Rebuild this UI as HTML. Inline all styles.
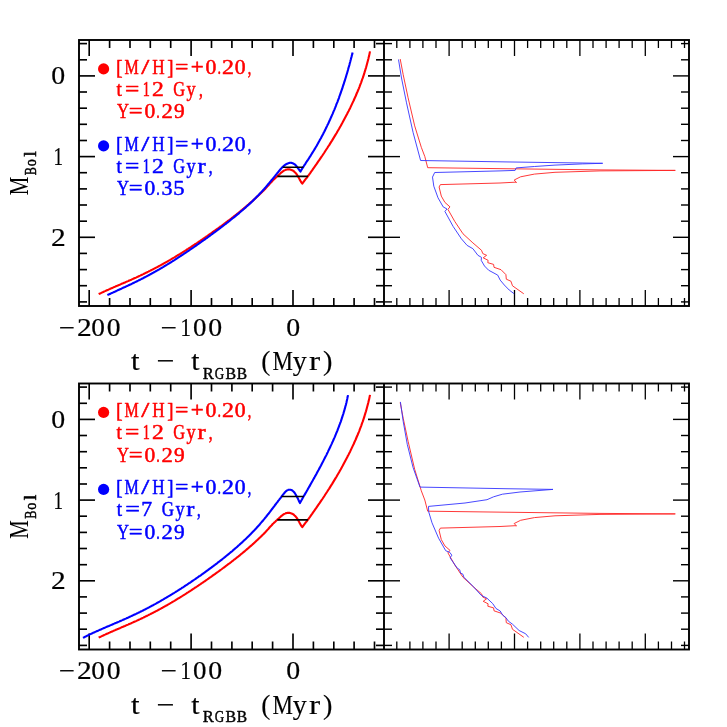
<!DOCTYPE html>
<html><head><meta charset="utf-8"><title>RGBB evolution</title>
<style>
html,body{margin:0;padding:0;background:#fff;}
body{width:727px;height:727px;overflow:hidden;}
svg{display:block;will-change:transform;}
text{font-family:"Liberation Serif",serif;stroke-linejoin:round;}
</style></head><body>
<svg width="727" height="727" viewBox="0 0 727 727">
<rect width="727" height="727" fill="#fff"/>
<!-- top panels -->
<g stroke="#000" stroke-linecap="butt">
<line x1="89.2" y1="40.0" x2="89.2" y2="56.0" stroke-width="1.65"/>
<line x1="89.2" y1="306.0" x2="89.2" y2="290.0" stroke-width="1.65"/>
<line x1="109.6" y1="40.0" x2="109.6" y2="48.0" stroke-width="1.65"/>
<line x1="109.6" y1="306.0" x2="109.6" y2="298.0" stroke-width="1.65"/>
<line x1="130.0" y1="40.0" x2="130.0" y2="48.0" stroke-width="1.65"/>
<line x1="130.0" y1="306.0" x2="130.0" y2="298.0" stroke-width="1.65"/>
<line x1="150.3" y1="40.0" x2="150.3" y2="48.0" stroke-width="1.65"/>
<line x1="150.3" y1="306.0" x2="150.3" y2="298.0" stroke-width="1.65"/>
<line x1="170.7" y1="40.0" x2="170.7" y2="48.0" stroke-width="1.65"/>
<line x1="170.7" y1="306.0" x2="170.7" y2="298.0" stroke-width="1.65"/>
<line x1="191.1" y1="40.0" x2="191.1" y2="56.0" stroke-width="1.65"/>
<line x1="191.1" y1="306.0" x2="191.1" y2="290.0" stroke-width="1.65"/>
<line x1="211.5" y1="40.0" x2="211.5" y2="48.0" stroke-width="1.65"/>
<line x1="211.5" y1="306.0" x2="211.5" y2="298.0" stroke-width="1.65"/>
<line x1="231.9" y1="40.0" x2="231.9" y2="48.0" stroke-width="1.65"/>
<line x1="231.9" y1="306.0" x2="231.9" y2="298.0" stroke-width="1.65"/>
<line x1="252.2" y1="40.0" x2="252.2" y2="48.0" stroke-width="1.65"/>
<line x1="252.2" y1="306.0" x2="252.2" y2="298.0" stroke-width="1.65"/>
<line x1="272.6" y1="40.0" x2="272.6" y2="48.0" stroke-width="1.65"/>
<line x1="272.6" y1="306.0" x2="272.6" y2="298.0" stroke-width="1.65"/>
<line x1="293.0" y1="40.0" x2="293.0" y2="56.0" stroke-width="1.65"/>
<line x1="293.0" y1="306.0" x2="293.0" y2="290.0" stroke-width="1.65"/>
<line x1="313.4" y1="40.0" x2="313.4" y2="48.0" stroke-width="1.65"/>
<line x1="313.4" y1="306.0" x2="313.4" y2="298.0" stroke-width="1.65"/>
<line x1="333.8" y1="40.0" x2="333.8" y2="48.0" stroke-width="1.65"/>
<line x1="333.8" y1="306.0" x2="333.8" y2="298.0" stroke-width="1.65"/>
<line x1="354.1" y1="40.0" x2="354.1" y2="48.0" stroke-width="1.65"/>
<line x1="354.1" y1="306.0" x2="354.1" y2="298.0" stroke-width="1.65"/>
<line x1="374.5" y1="40.0" x2="374.5" y2="48.0" stroke-width="1.65"/>
<line x1="374.5" y1="306.0" x2="374.5" y2="298.0" stroke-width="1.65"/>
<line x1="79.0" y1="43.6" x2="87.0" y2="43.6" stroke-width="1.65"/>
<line x1="376.0" y1="43.6" x2="384.0" y2="43.6" stroke-width="1.65"/>
<line x1="384.0" y1="43.6" x2="392.0" y2="43.6" stroke-width="1.4"/>
<line x1="681.0" y1="43.6" x2="689.0" y2="43.6" stroke-width="1.4"/>
<line x1="79.0" y1="59.8" x2="87.0" y2="59.8" stroke-width="1.65"/>
<line x1="376.0" y1="59.8" x2="384.0" y2="59.8" stroke-width="1.65"/>
<line x1="384.0" y1="59.8" x2="392.0" y2="59.8" stroke-width="1.4"/>
<line x1="681.0" y1="59.8" x2="689.0" y2="59.8" stroke-width="1.4"/>
<line x1="79.0" y1="75.9" x2="95.0" y2="75.9" stroke-width="1.65"/>
<line x1="368.0" y1="75.9" x2="384.0" y2="75.9" stroke-width="1.65"/>
<line x1="384.0" y1="75.9" x2="400.0" y2="75.9" stroke-width="1.4"/>
<line x1="673.0" y1="75.9" x2="689.0" y2="75.9" stroke-width="1.4"/>
<line x1="79.0" y1="92.0" x2="87.0" y2="92.0" stroke-width="1.65"/>
<line x1="376.0" y1="92.0" x2="384.0" y2="92.0" stroke-width="1.65"/>
<line x1="384.0" y1="92.0" x2="392.0" y2="92.0" stroke-width="1.4"/>
<line x1="681.0" y1="92.0" x2="689.0" y2="92.0" stroke-width="1.4"/>
<line x1="79.0" y1="108.2" x2="87.0" y2="108.2" stroke-width="1.65"/>
<line x1="376.0" y1="108.2" x2="384.0" y2="108.2" stroke-width="1.65"/>
<line x1="384.0" y1="108.2" x2="392.0" y2="108.2" stroke-width="1.4"/>
<line x1="681.0" y1="108.2" x2="689.0" y2="108.2" stroke-width="1.4"/>
<line x1="79.0" y1="124.3" x2="87.0" y2="124.3" stroke-width="1.65"/>
<line x1="376.0" y1="124.3" x2="384.0" y2="124.3" stroke-width="1.65"/>
<line x1="384.0" y1="124.3" x2="392.0" y2="124.3" stroke-width="1.4"/>
<line x1="681.0" y1="124.3" x2="689.0" y2="124.3" stroke-width="1.4"/>
<line x1="79.0" y1="140.5" x2="87.0" y2="140.5" stroke-width="1.65"/>
<line x1="376.0" y1="140.5" x2="384.0" y2="140.5" stroke-width="1.65"/>
<line x1="384.0" y1="140.5" x2="392.0" y2="140.5" stroke-width="1.4"/>
<line x1="681.0" y1="140.5" x2="689.0" y2="140.5" stroke-width="1.4"/>
<line x1="79.0" y1="156.6" x2="95.0" y2="156.6" stroke-width="1.65"/>
<line x1="368.0" y1="156.6" x2="384.0" y2="156.6" stroke-width="1.65"/>
<line x1="384.0" y1="156.6" x2="400.0" y2="156.6" stroke-width="1.4"/>
<line x1="673.0" y1="156.6" x2="689.0" y2="156.6" stroke-width="1.4"/>
<line x1="79.0" y1="172.7" x2="87.0" y2="172.7" stroke-width="1.65"/>
<line x1="376.0" y1="172.7" x2="384.0" y2="172.7" stroke-width="1.65"/>
<line x1="384.0" y1="172.7" x2="392.0" y2="172.7" stroke-width="1.4"/>
<line x1="681.0" y1="172.7" x2="689.0" y2="172.7" stroke-width="1.4"/>
<line x1="79.0" y1="188.9" x2="87.0" y2="188.9" stroke-width="1.65"/>
<line x1="376.0" y1="188.9" x2="384.0" y2="188.9" stroke-width="1.65"/>
<line x1="384.0" y1="188.9" x2="392.0" y2="188.9" stroke-width="1.4"/>
<line x1="681.0" y1="188.9" x2="689.0" y2="188.9" stroke-width="1.4"/>
<line x1="79.0" y1="205.0" x2="87.0" y2="205.0" stroke-width="1.65"/>
<line x1="376.0" y1="205.0" x2="384.0" y2="205.0" stroke-width="1.65"/>
<line x1="384.0" y1="205.0" x2="392.0" y2="205.0" stroke-width="1.4"/>
<line x1="681.0" y1="205.0" x2="689.0" y2="205.0" stroke-width="1.4"/>
<line x1="79.0" y1="221.2" x2="87.0" y2="221.2" stroke-width="1.65"/>
<line x1="376.0" y1="221.2" x2="384.0" y2="221.2" stroke-width="1.65"/>
<line x1="384.0" y1="221.2" x2="392.0" y2="221.2" stroke-width="1.4"/>
<line x1="681.0" y1="221.2" x2="689.0" y2="221.2" stroke-width="1.4"/>
<line x1="79.0" y1="237.3" x2="95.0" y2="237.3" stroke-width="1.65"/>
<line x1="368.0" y1="237.3" x2="384.0" y2="237.3" stroke-width="1.65"/>
<line x1="384.0" y1="237.3" x2="400.0" y2="237.3" stroke-width="1.4"/>
<line x1="673.0" y1="237.3" x2="689.0" y2="237.3" stroke-width="1.4"/>
<line x1="79.0" y1="253.4" x2="87.0" y2="253.4" stroke-width="1.65"/>
<line x1="376.0" y1="253.4" x2="384.0" y2="253.4" stroke-width="1.65"/>
<line x1="384.0" y1="253.4" x2="392.0" y2="253.4" stroke-width="1.4"/>
<line x1="681.0" y1="253.4" x2="689.0" y2="253.4" stroke-width="1.4"/>
<line x1="79.0" y1="269.6" x2="87.0" y2="269.6" stroke-width="1.65"/>
<line x1="376.0" y1="269.6" x2="384.0" y2="269.6" stroke-width="1.65"/>
<line x1="384.0" y1="269.6" x2="392.0" y2="269.6" stroke-width="1.4"/>
<line x1="681.0" y1="269.6" x2="689.0" y2="269.6" stroke-width="1.4"/>
<line x1="79.0" y1="285.7" x2="87.0" y2="285.7" stroke-width="1.65"/>
<line x1="376.0" y1="285.7" x2="384.0" y2="285.7" stroke-width="1.65"/>
<line x1="384.0" y1="285.7" x2="392.0" y2="285.7" stroke-width="1.4"/>
<line x1="681.0" y1="285.7" x2="689.0" y2="285.7" stroke-width="1.4"/>
<line x1="79.0" y1="301.9" x2="87.0" y2="301.9" stroke-width="1.65"/>
<line x1="376.0" y1="301.9" x2="384.0" y2="301.9" stroke-width="1.65"/>
<line x1="384.0" y1="301.9" x2="392.0" y2="301.9" stroke-width="1.4"/>
<line x1="681.0" y1="301.9" x2="689.0" y2="301.9" stroke-width="1.4"/>
<line x1="396.8" y1="40.0" x2="396.8" y2="48.0" stroke-width="1.3"/>
<line x1="396.8" y1="306.0" x2="396.8" y2="298.0" stroke-width="1.3"/>
<line x1="409.9" y1="40.0" x2="409.9" y2="48.0" stroke-width="1.3"/>
<line x1="409.9" y1="306.0" x2="409.9" y2="298.0" stroke-width="1.3"/>
<line x1="422.9" y1="40.0" x2="422.9" y2="48.0" stroke-width="1.3"/>
<line x1="422.9" y1="306.0" x2="422.9" y2="298.0" stroke-width="1.3"/>
<line x1="436.0" y1="40.0" x2="436.0" y2="48.0" stroke-width="1.3"/>
<line x1="436.0" y1="306.0" x2="436.0" y2="298.0" stroke-width="1.3"/>
<line x1="449.1" y1="40.0" x2="449.1" y2="56.0" stroke-width="1.3"/>
<line x1="449.1" y1="306.0" x2="449.1" y2="290.0" stroke-width="1.3"/>
<line x1="462.2" y1="40.0" x2="462.2" y2="48.0" stroke-width="1.3"/>
<line x1="462.2" y1="306.0" x2="462.2" y2="298.0" stroke-width="1.3"/>
<line x1="475.3" y1="40.0" x2="475.3" y2="48.0" stroke-width="1.3"/>
<line x1="475.3" y1="306.0" x2="475.3" y2="298.0" stroke-width="1.3"/>
<line x1="488.3" y1="40.0" x2="488.3" y2="48.0" stroke-width="1.3"/>
<line x1="488.3" y1="306.0" x2="488.3" y2="298.0" stroke-width="1.3"/>
<line x1="501.4" y1="40.0" x2="501.4" y2="48.0" stroke-width="1.3"/>
<line x1="501.4" y1="306.0" x2="501.4" y2="298.0" stroke-width="1.3"/>
<line x1="514.5" y1="40.0" x2="514.5" y2="56.0" stroke-width="1.3"/>
<line x1="514.5" y1="306.0" x2="514.5" y2="290.0" stroke-width="1.3"/>
<line x1="527.6" y1="40.0" x2="527.6" y2="48.0" stroke-width="1.3"/>
<line x1="527.6" y1="306.0" x2="527.6" y2="298.0" stroke-width="1.3"/>
<line x1="540.7" y1="40.0" x2="540.7" y2="48.0" stroke-width="1.3"/>
<line x1="540.7" y1="306.0" x2="540.7" y2="298.0" stroke-width="1.3"/>
<line x1="553.7" y1="40.0" x2="553.7" y2="48.0" stroke-width="1.3"/>
<line x1="553.7" y1="306.0" x2="553.7" y2="298.0" stroke-width="1.3"/>
<line x1="566.8" y1="40.0" x2="566.8" y2="48.0" stroke-width="1.3"/>
<line x1="566.8" y1="306.0" x2="566.8" y2="298.0" stroke-width="1.3"/>
<line x1="579.9" y1="40.0" x2="579.9" y2="56.0" stroke-width="1.3"/>
<line x1="579.9" y1="306.0" x2="579.9" y2="290.0" stroke-width="1.3"/>
<line x1="593.0" y1="40.0" x2="593.0" y2="48.0" stroke-width="1.3"/>
<line x1="593.0" y1="306.0" x2="593.0" y2="298.0" stroke-width="1.3"/>
<line x1="606.1" y1="40.0" x2="606.1" y2="48.0" stroke-width="1.3"/>
<line x1="606.1" y1="306.0" x2="606.1" y2="298.0" stroke-width="1.3"/>
<line x1="619.1" y1="40.0" x2="619.1" y2="48.0" stroke-width="1.3"/>
<line x1="619.1" y1="306.0" x2="619.1" y2="298.0" stroke-width="1.3"/>
<line x1="632.2" y1="40.0" x2="632.2" y2="48.0" stroke-width="1.3"/>
<line x1="632.2" y1="306.0" x2="632.2" y2="298.0" stroke-width="1.3"/>
<line x1="645.3" y1="40.0" x2="645.3" y2="56.0" stroke-width="1.3"/>
<line x1="645.3" y1="306.0" x2="645.3" y2="290.0" stroke-width="1.3"/>
<line x1="658.4" y1="40.0" x2="658.4" y2="48.0" stroke-width="1.3"/>
<line x1="658.4" y1="306.0" x2="658.4" y2="298.0" stroke-width="1.3"/>
<line x1="671.5" y1="40.0" x2="671.5" y2="48.0" stroke-width="1.3"/>
<line x1="671.5" y1="306.0" x2="671.5" y2="298.0" stroke-width="1.3"/>
<line x1="684.5" y1="40.0" x2="684.5" y2="48.0" stroke-width="1.3"/>
<line x1="684.5" y1="306.0" x2="684.5" y2="298.0" stroke-width="1.3"/>
<rect x="79.0" y="40.0" width="610.0" height="266.0" fill="none" stroke-width="1.9"/>
<line x1="384.0" y1="40.0" x2="384.0" y2="306.0" stroke-width="1.9"/>
<line x1="89.2" y1="383.5" x2="89.2" y2="399.5" stroke-width="1.65"/>
<line x1="89.2" y1="649.5" x2="89.2" y2="633.5" stroke-width="1.65"/>
<line x1="109.6" y1="383.5" x2="109.6" y2="391.5" stroke-width="1.65"/>
<line x1="109.6" y1="649.5" x2="109.6" y2="641.5" stroke-width="1.65"/>
<line x1="130.0" y1="383.5" x2="130.0" y2="391.5" stroke-width="1.65"/>
<line x1="130.0" y1="649.5" x2="130.0" y2="641.5" stroke-width="1.65"/>
<line x1="150.3" y1="383.5" x2="150.3" y2="391.5" stroke-width="1.65"/>
<line x1="150.3" y1="649.5" x2="150.3" y2="641.5" stroke-width="1.65"/>
<line x1="170.7" y1="383.5" x2="170.7" y2="391.5" stroke-width="1.65"/>
<line x1="170.7" y1="649.5" x2="170.7" y2="641.5" stroke-width="1.65"/>
<line x1="191.1" y1="383.5" x2="191.1" y2="399.5" stroke-width="1.65"/>
<line x1="191.1" y1="649.5" x2="191.1" y2="633.5" stroke-width="1.65"/>
<line x1="211.5" y1="383.5" x2="211.5" y2="391.5" stroke-width="1.65"/>
<line x1="211.5" y1="649.5" x2="211.5" y2="641.5" stroke-width="1.65"/>
<line x1="231.9" y1="383.5" x2="231.9" y2="391.5" stroke-width="1.65"/>
<line x1="231.9" y1="649.5" x2="231.9" y2="641.5" stroke-width="1.65"/>
<line x1="252.2" y1="383.5" x2="252.2" y2="391.5" stroke-width="1.65"/>
<line x1="252.2" y1="649.5" x2="252.2" y2="641.5" stroke-width="1.65"/>
<line x1="272.6" y1="383.5" x2="272.6" y2="391.5" stroke-width="1.65"/>
<line x1="272.6" y1="649.5" x2="272.6" y2="641.5" stroke-width="1.65"/>
<line x1="293.0" y1="383.5" x2="293.0" y2="399.5" stroke-width="1.65"/>
<line x1="293.0" y1="649.5" x2="293.0" y2="633.5" stroke-width="1.65"/>
<line x1="313.4" y1="383.5" x2="313.4" y2="391.5" stroke-width="1.65"/>
<line x1="313.4" y1="649.5" x2="313.4" y2="641.5" stroke-width="1.65"/>
<line x1="333.8" y1="383.5" x2="333.8" y2="391.5" stroke-width="1.65"/>
<line x1="333.8" y1="649.5" x2="333.8" y2="641.5" stroke-width="1.65"/>
<line x1="354.1" y1="383.5" x2="354.1" y2="391.5" stroke-width="1.65"/>
<line x1="354.1" y1="649.5" x2="354.1" y2="641.5" stroke-width="1.65"/>
<line x1="374.5" y1="383.5" x2="374.5" y2="391.5" stroke-width="1.65"/>
<line x1="374.5" y1="649.5" x2="374.5" y2="641.5" stroke-width="1.65"/>
<line x1="79.0" y1="387.1" x2="87.0" y2="387.1" stroke-width="1.65"/>
<line x1="376.0" y1="387.1" x2="384.0" y2="387.1" stroke-width="1.65"/>
<line x1="384.0" y1="387.1" x2="392.0" y2="387.1" stroke-width="1.4"/>
<line x1="681.0" y1="387.1" x2="689.0" y2="387.1" stroke-width="1.4"/>
<line x1="79.0" y1="403.3" x2="87.0" y2="403.3" stroke-width="1.65"/>
<line x1="376.0" y1="403.3" x2="384.0" y2="403.3" stroke-width="1.65"/>
<line x1="384.0" y1="403.3" x2="392.0" y2="403.3" stroke-width="1.4"/>
<line x1="681.0" y1="403.3" x2="689.0" y2="403.3" stroke-width="1.4"/>
<line x1="79.0" y1="419.4" x2="95.0" y2="419.4" stroke-width="1.65"/>
<line x1="368.0" y1="419.4" x2="384.0" y2="419.4" stroke-width="1.65"/>
<line x1="384.0" y1="419.4" x2="400.0" y2="419.4" stroke-width="1.4"/>
<line x1="673.0" y1="419.4" x2="689.0" y2="419.4" stroke-width="1.4"/>
<line x1="79.0" y1="435.5" x2="87.0" y2="435.5" stroke-width="1.65"/>
<line x1="376.0" y1="435.5" x2="384.0" y2="435.5" stroke-width="1.65"/>
<line x1="384.0" y1="435.5" x2="392.0" y2="435.5" stroke-width="1.4"/>
<line x1="681.0" y1="435.5" x2="689.0" y2="435.5" stroke-width="1.4"/>
<line x1="79.0" y1="451.7" x2="87.0" y2="451.7" stroke-width="1.65"/>
<line x1="376.0" y1="451.7" x2="384.0" y2="451.7" stroke-width="1.65"/>
<line x1="384.0" y1="451.7" x2="392.0" y2="451.7" stroke-width="1.4"/>
<line x1="681.0" y1="451.7" x2="689.0" y2="451.7" stroke-width="1.4"/>
<line x1="79.0" y1="467.8" x2="87.0" y2="467.8" stroke-width="1.65"/>
<line x1="376.0" y1="467.8" x2="384.0" y2="467.8" stroke-width="1.65"/>
<line x1="384.0" y1="467.8" x2="392.0" y2="467.8" stroke-width="1.4"/>
<line x1="681.0" y1="467.8" x2="689.0" y2="467.8" stroke-width="1.4"/>
<line x1="79.0" y1="484.0" x2="87.0" y2="484.0" stroke-width="1.65"/>
<line x1="376.0" y1="484.0" x2="384.0" y2="484.0" stroke-width="1.65"/>
<line x1="384.0" y1="484.0" x2="392.0" y2="484.0" stroke-width="1.4"/>
<line x1="681.0" y1="484.0" x2="689.0" y2="484.0" stroke-width="1.4"/>
<line x1="79.0" y1="500.1" x2="95.0" y2="500.1" stroke-width="1.65"/>
<line x1="368.0" y1="500.1" x2="384.0" y2="500.1" stroke-width="1.65"/>
<line x1="384.0" y1="500.1" x2="400.0" y2="500.1" stroke-width="1.4"/>
<line x1="673.0" y1="500.1" x2="689.0" y2="500.1" stroke-width="1.4"/>
<line x1="79.0" y1="516.2" x2="87.0" y2="516.2" stroke-width="1.65"/>
<line x1="376.0" y1="516.2" x2="384.0" y2="516.2" stroke-width="1.65"/>
<line x1="384.0" y1="516.2" x2="392.0" y2="516.2" stroke-width="1.4"/>
<line x1="681.0" y1="516.2" x2="689.0" y2="516.2" stroke-width="1.4"/>
<line x1="79.0" y1="532.4" x2="87.0" y2="532.4" stroke-width="1.65"/>
<line x1="376.0" y1="532.4" x2="384.0" y2="532.4" stroke-width="1.65"/>
<line x1="384.0" y1="532.4" x2="392.0" y2="532.4" stroke-width="1.4"/>
<line x1="681.0" y1="532.4" x2="689.0" y2="532.4" stroke-width="1.4"/>
<line x1="79.0" y1="548.5" x2="87.0" y2="548.5" stroke-width="1.65"/>
<line x1="376.0" y1="548.5" x2="384.0" y2="548.5" stroke-width="1.65"/>
<line x1="384.0" y1="548.5" x2="392.0" y2="548.5" stroke-width="1.4"/>
<line x1="681.0" y1="548.5" x2="689.0" y2="548.5" stroke-width="1.4"/>
<line x1="79.0" y1="564.7" x2="87.0" y2="564.7" stroke-width="1.65"/>
<line x1="376.0" y1="564.7" x2="384.0" y2="564.7" stroke-width="1.65"/>
<line x1="384.0" y1="564.7" x2="392.0" y2="564.7" stroke-width="1.4"/>
<line x1="681.0" y1="564.7" x2="689.0" y2="564.7" stroke-width="1.4"/>
<line x1="79.0" y1="580.8" x2="95.0" y2="580.8" stroke-width="1.65"/>
<line x1="368.0" y1="580.8" x2="384.0" y2="580.8" stroke-width="1.65"/>
<line x1="384.0" y1="580.8" x2="400.0" y2="580.8" stroke-width="1.4"/>
<line x1="673.0" y1="580.8" x2="689.0" y2="580.8" stroke-width="1.4"/>
<line x1="79.0" y1="596.9" x2="87.0" y2="596.9" stroke-width="1.65"/>
<line x1="376.0" y1="596.9" x2="384.0" y2="596.9" stroke-width="1.65"/>
<line x1="384.0" y1="596.9" x2="392.0" y2="596.9" stroke-width="1.4"/>
<line x1="681.0" y1="596.9" x2="689.0" y2="596.9" stroke-width="1.4"/>
<line x1="79.0" y1="613.1" x2="87.0" y2="613.1" stroke-width="1.65"/>
<line x1="376.0" y1="613.1" x2="384.0" y2="613.1" stroke-width="1.65"/>
<line x1="384.0" y1="613.1" x2="392.0" y2="613.1" stroke-width="1.4"/>
<line x1="681.0" y1="613.1" x2="689.0" y2="613.1" stroke-width="1.4"/>
<line x1="79.0" y1="629.2" x2="87.0" y2="629.2" stroke-width="1.65"/>
<line x1="376.0" y1="629.2" x2="384.0" y2="629.2" stroke-width="1.65"/>
<line x1="384.0" y1="629.2" x2="392.0" y2="629.2" stroke-width="1.4"/>
<line x1="681.0" y1="629.2" x2="689.0" y2="629.2" stroke-width="1.4"/>
<line x1="79.0" y1="645.4" x2="87.0" y2="645.4" stroke-width="1.65"/>
<line x1="376.0" y1="645.4" x2="384.0" y2="645.4" stroke-width="1.65"/>
<line x1="384.0" y1="645.4" x2="392.0" y2="645.4" stroke-width="1.4"/>
<line x1="681.0" y1="645.4" x2="689.0" y2="645.4" stroke-width="1.4"/>
<line x1="396.8" y1="383.5" x2="396.8" y2="391.5" stroke-width="1.3"/>
<line x1="396.8" y1="649.5" x2="396.8" y2="641.5" stroke-width="1.3"/>
<line x1="409.9" y1="383.5" x2="409.9" y2="391.5" stroke-width="1.3"/>
<line x1="409.9" y1="649.5" x2="409.9" y2="641.5" stroke-width="1.3"/>
<line x1="422.9" y1="383.5" x2="422.9" y2="391.5" stroke-width="1.3"/>
<line x1="422.9" y1="649.5" x2="422.9" y2="641.5" stroke-width="1.3"/>
<line x1="436.0" y1="383.5" x2="436.0" y2="391.5" stroke-width="1.3"/>
<line x1="436.0" y1="649.5" x2="436.0" y2="641.5" stroke-width="1.3"/>
<line x1="449.1" y1="383.5" x2="449.1" y2="399.5" stroke-width="1.3"/>
<line x1="449.1" y1="649.5" x2="449.1" y2="633.5" stroke-width="1.3"/>
<line x1="462.2" y1="383.5" x2="462.2" y2="391.5" stroke-width="1.3"/>
<line x1="462.2" y1="649.5" x2="462.2" y2="641.5" stroke-width="1.3"/>
<line x1="475.3" y1="383.5" x2="475.3" y2="391.5" stroke-width="1.3"/>
<line x1="475.3" y1="649.5" x2="475.3" y2="641.5" stroke-width="1.3"/>
<line x1="488.3" y1="383.5" x2="488.3" y2="391.5" stroke-width="1.3"/>
<line x1="488.3" y1="649.5" x2="488.3" y2="641.5" stroke-width="1.3"/>
<line x1="501.4" y1="383.5" x2="501.4" y2="391.5" stroke-width="1.3"/>
<line x1="501.4" y1="649.5" x2="501.4" y2="641.5" stroke-width="1.3"/>
<line x1="514.5" y1="383.5" x2="514.5" y2="399.5" stroke-width="1.3"/>
<line x1="514.5" y1="649.5" x2="514.5" y2="633.5" stroke-width="1.3"/>
<line x1="527.6" y1="383.5" x2="527.6" y2="391.5" stroke-width="1.3"/>
<line x1="527.6" y1="649.5" x2="527.6" y2="641.5" stroke-width="1.3"/>
<line x1="540.7" y1="383.5" x2="540.7" y2="391.5" stroke-width="1.3"/>
<line x1="540.7" y1="649.5" x2="540.7" y2="641.5" stroke-width="1.3"/>
<line x1="553.7" y1="383.5" x2="553.7" y2="391.5" stroke-width="1.3"/>
<line x1="553.7" y1="649.5" x2="553.7" y2="641.5" stroke-width="1.3"/>
<line x1="566.8" y1="383.5" x2="566.8" y2="391.5" stroke-width="1.3"/>
<line x1="566.8" y1="649.5" x2="566.8" y2="641.5" stroke-width="1.3"/>
<line x1="579.9" y1="383.5" x2="579.9" y2="399.5" stroke-width="1.3"/>
<line x1="579.9" y1="649.5" x2="579.9" y2="633.5" stroke-width="1.3"/>
<line x1="593.0" y1="383.5" x2="593.0" y2="391.5" stroke-width="1.3"/>
<line x1="593.0" y1="649.5" x2="593.0" y2="641.5" stroke-width="1.3"/>
<line x1="606.1" y1="383.5" x2="606.1" y2="391.5" stroke-width="1.3"/>
<line x1="606.1" y1="649.5" x2="606.1" y2="641.5" stroke-width="1.3"/>
<line x1="619.1" y1="383.5" x2="619.1" y2="391.5" stroke-width="1.3"/>
<line x1="619.1" y1="649.5" x2="619.1" y2="641.5" stroke-width="1.3"/>
<line x1="632.2" y1="383.5" x2="632.2" y2="391.5" stroke-width="1.3"/>
<line x1="632.2" y1="649.5" x2="632.2" y2="641.5" stroke-width="1.3"/>
<line x1="645.3" y1="383.5" x2="645.3" y2="399.5" stroke-width="1.3"/>
<line x1="645.3" y1="649.5" x2="645.3" y2="633.5" stroke-width="1.3"/>
<line x1="658.4" y1="383.5" x2="658.4" y2="391.5" stroke-width="1.3"/>
<line x1="658.4" y1="649.5" x2="658.4" y2="641.5" stroke-width="1.3"/>
<line x1="671.5" y1="383.5" x2="671.5" y2="391.5" stroke-width="1.3"/>
<line x1="671.5" y1="649.5" x2="671.5" y2="641.5" stroke-width="1.3"/>
<line x1="684.5" y1="383.5" x2="684.5" y2="391.5" stroke-width="1.3"/>
<line x1="684.5" y1="649.5" x2="684.5" y2="641.5" stroke-width="1.3"/>
<rect x="79.0" y="383.5" width="610.0" height="266.0" fill="none" stroke-width="1.9"/>
<line x1="384.0" y1="383.5" x2="384.0" y2="649.5" stroke-width="1.9"/>
</g>
<g fill="none" stroke-linejoin="round" stroke-linecap="butt">
<!-- top-left curves -->
<path d="M98.7 294.1 L99.3 293.8 L100.0 293.5 L100.6 293.2 L101.3 292.9 L101.9 292.6 L102.5 292.3 L103.2 292.0 L103.8 291.7 L104.4 291.4 L105.1 291.1 L105.7 290.8 L106.4 290.5 L107.0 290.2 L107.6 289.9 L108.3 289.7 L108.9 289.4 L109.6 289.1 L110.2 288.8 L110.8 288.5 L111.5 288.3 L112.1 288.0 L112.7 287.7 L113.4 287.4 L114.0 287.1 L114.7 286.9 L115.3 286.6 L115.9 286.3 L116.6 286.0 L117.2 285.8 L117.8 285.5 L118.5 285.2 L119.1 284.9 L119.8 284.7 L120.4 284.4 L121.0 284.1 L121.7 283.8 L122.3 283.6 L123.0 283.3 L123.6 283.0 L124.2 282.7 L124.9 282.5 L125.5 282.2 L126.1 281.9 L126.8 281.6 L127.4 281.4 L128.1 281.1 L128.7 280.8 L129.3 280.5 L130.0 280.2 L130.6 279.9 L131.3 279.7 L131.9 279.4 L132.5 279.1 L133.2 278.8 L133.8 278.5 L134.4 278.2 L135.1 277.9 L135.7 277.7 L136.4 277.4 L137.0 277.1 L137.6 276.8 L138.3 276.5 L138.9 276.2 L139.5 275.9 L140.2 275.6 L140.8 275.3 L141.5 275.0 L142.1 274.7 L142.7 274.4 L143.4 274.1 L144.0 273.8 L144.7 273.5 L145.3 273.1 L145.9 272.8 L146.6 272.5 L147.2 272.2 L147.8 271.9 L148.5 271.6 L149.1 271.2 L149.8 270.9 L150.4 270.6 L151.0 270.3 L151.7 270.0 L152.3 269.6 L153.0 269.3 L153.6 269.0 L154.2 268.6 L154.9 268.3 L155.5 268.0 L156.1 267.6 L156.8 267.3 L157.4 267.0 L158.1 266.6 L158.7 266.3 L159.3 265.9 L160.0 265.6 L160.6 265.2 L161.2 264.9 L161.9 264.5 L162.5 264.2 L163.2 263.8 L163.8 263.5 L164.4 263.1 L165.1 262.7 L165.7 262.4 L166.4 262.0 L167.0 261.7 L167.6 261.3 L168.3 260.9 L168.9 260.6 L169.5 260.2 L170.2 259.8 L170.8 259.4 L171.5 259.1 L172.1 258.7 L172.7 258.3 L173.4 257.9 L174.0 257.6 L174.7 257.2 L175.3 256.8 L175.9 256.4 L176.6 256.0 L177.2 255.6 L177.8 255.2 L178.5 254.8 L179.1 254.5 L179.8 254.1 L180.4 253.7 L181.0 253.3 L181.7 252.9 L182.3 252.5 L182.9 252.1 L183.6 251.7 L184.2 251.3 L184.9 250.9 L185.5 250.5 L186.1 250.1 L186.8 249.6 L187.4 249.2 L188.1 248.8 L188.7 248.4 L189.3 248.0 L190.0 247.6 L190.6 247.2 L191.2 246.8 L191.9 246.3 L192.5 245.9 L193.2 245.5 L193.8 245.1 L194.4 244.7 L195.1 244.2 L195.7 243.8 L196.4 243.4 L197.0 243.0 L197.6 242.5 L198.3 242.1 L198.9 241.7 L199.5 241.2 L200.2 240.8 L200.8 240.4 L201.5 239.9 L202.1 239.5 L202.7 239.1 L203.4 238.6 L204.0 238.2 L204.6 237.8 L205.3 237.3 L205.9 236.9 L206.6 236.4 L207.2 236.0 L207.8 235.5 L208.5 235.1 L209.1 234.6 L209.8 234.2 L210.4 233.7 L211.0 233.3 L211.7 232.8 L212.3 232.4 L212.9 231.9 L213.6 231.5 L214.2 231.0 L214.9 230.6 L215.5 230.1 L216.1 229.7 L216.8 229.2 L217.4 228.7 L218.1 228.3 L218.7 227.8 L219.3 227.4 L220.0 226.9 L220.6 226.4 L221.2 226.0 L221.9 225.5 L222.5 225.0 L223.2 224.5 L223.8 224.1 L224.4 223.6 L225.1 223.1 L225.7 222.6 L226.3 222.2 L227.0 221.7 L227.6 221.2 L228.3 220.7 L228.9 220.2 L229.5 219.8 L230.2 219.3 L230.8 218.8 L231.5 218.3 L232.1 217.8 L232.7 217.3 L233.4 216.8 L234.0 216.3 L234.6 215.8 L235.3 215.3 L235.9 214.8 L236.6 214.3 L237.2 213.8 L237.8 213.3 L238.5 212.8 L239.1 212.3 L239.8 211.8 L240.4 211.2 L241.0 210.7 L241.7 210.2 L242.3 209.7 L242.9 209.1 L243.6 208.6 L244.2 208.1 L244.9 207.6 L245.5 207.0 L246.1 206.5 L246.8 205.9 L247.4 205.4 L248.0 204.8 L248.7 204.3 L249.3 203.7 L250.0 203.2 L250.6 202.6 L251.2 202.1 L251.9 201.5 L252.5 200.9 L253.2 200.4 L253.8 199.8 L254.4 199.2 L255.1 198.6 L255.7 198.0 L256.3 197.4 L257.0 196.8 L257.6 196.2 L258.3 195.6 L258.9 195.0 L259.5 194.4 L260.2 193.8 L260.8 193.2 L261.5 192.5 L262.1 191.9 L262.7 191.3 L263.4 190.7 L264.0 190.0 L264.6 189.4 L265.3 188.7 L265.9 188.0 L266.6 187.3 L267.2 186.6 L267.8 185.9 L268.5 185.2 L269.1 184.5 L269.7 183.8 L270.4 183.1 L271.0 182.4 L271.7 181.7 L272.3 181.0 L272.9 180.3 L273.6 179.7 L274.2 179.1 L274.9 178.5 L275.5 177.9 L276.1 177.3 L276.8 176.7 L277.4 176.1 L278.0 175.6 L278.7 175.0 L279.3 174.4 L280.0 173.8 L280.6 173.2 L281.2 172.6 L281.9 172.1 L282.5 171.6 L283.2 171.1 L283.8 170.7 L284.4 170.4 L285.1 170.1 L285.7 169.8 L286.3 169.6 L287.0 169.5 L287.6 169.4 L288.3 169.4 L288.9 169.4 L289.5 169.4 L290.2 169.5 L290.8 169.7 L291.4 169.9 L292.1 170.2 L292.7 170.5 L293.4 170.9 L294.0 171.4 L294.6 172.0 L295.3 172.6 L295.9 173.3 L296.6 174.2 L297.2 175.1 L297.8 176.1 L298.5 177.2 L299.1 178.4 L299.7 179.6 L300.4 180.8 L301.0 181.9 L301.7 182.9 L302.3 183.7 L303.4 182.2 L304.5 180.7 L305.6 179.2 L306.7 177.8 L307.8 176.3 L308.9 174.8 L310.0 173.3 L311.0 171.8 L312.1 170.3 L313.1 168.8 L314.2 167.3 L315.2 165.9 L316.3 164.4 L317.3 162.9 L318.3 161.4 L319.4 159.9 L320.4 158.4 L321.4 156.9 L322.4 155.5 L323.4 154.0 L324.4 152.5 L325.3 151.0 L326.3 149.5 L327.3 148.0 L328.2 146.5 L329.2 145.1 L330.1 143.6 L331.0 142.1 L332.0 140.6 L332.9 139.1 L333.8 137.6 L334.7 136.1 L335.6 134.6 L336.5 133.2 L337.3 131.7 L338.2 130.2 L339.1 128.7 L339.9 127.2 L340.8 125.7 L341.6 124.2 L342.4 122.8 L343.2 121.3 L344.0 119.8 L344.8 118.3 L345.6 116.8 L346.4 115.3 L347.2 113.8 L347.9 112.3 L348.7 110.9 L349.4 109.4 L350.2 107.9 L350.9 106.4 L351.6 104.9 L352.3 103.4 L353.0 101.9 L353.7 100.5 L354.3 99.0 L355.0 97.5 L355.7 96.0 L356.3 94.5 L356.9 93.0 L357.6 91.5 L358.2 90.0 L358.8 88.6 L359.4 87.1 L359.9 85.6 L360.5 84.1 L361.1 82.6 L361.6 81.1 L362.1 79.6 L362.7 78.2 L363.2 76.7 L363.7 75.2 L364.2 73.7 L364.6 72.2 L365.1 70.7 L365.5 69.2 L366.0 67.8 L366.4 66.3 L366.8 64.8 L367.2 63.3 L367.6 61.8 L368.0 60.3 L368.4 58.8 L368.7 57.3 L369.1 55.9 L369.4 54.4 L369.7 52.9 L370.0 51.4" stroke="#f00" stroke-width="2.1"/>
<path d="M107.4 295.1 L108.0 294.8 L108.6 294.6 L109.2 294.3 L109.8 294.0 L110.4 293.7 L111.0 293.4 L111.6 293.1 L112.2 292.9 L112.8 292.6 L113.5 292.3 L114.1 292.0 L114.7 291.7 L115.3 291.5 L115.9 291.2 L116.5 290.9 L117.1 290.6 L117.7 290.3 L118.3 290.1 L118.9 289.8 L119.5 289.5 L120.1 289.2 L120.7 288.9 L121.3 288.7 L121.9 288.4 L122.5 288.1 L123.1 287.8 L123.7 287.6 L124.3 287.3 L125.0 287.0 L125.6 286.7 L126.2 286.4 L126.8 286.1 L127.4 285.9 L128.0 285.6 L128.6 285.3 L129.2 285.0 L129.8 284.7 L130.4 284.4 L131.0 284.2 L131.6 283.9 L132.2 283.6 L132.8 283.3 L133.4 283.0 L134.0 282.7 L134.6 282.4 L135.2 282.1 L135.9 281.8 L136.5 281.5 L137.1 281.2 L137.7 280.9 L138.3 280.6 L138.9 280.3 L139.5 280.0 L140.1 279.7 L140.7 279.4 L141.3 279.1 L141.9 278.8 L142.5 278.5 L143.1 278.2 L143.7 277.8 L144.3 277.5 L144.9 277.2 L145.5 276.9 L146.1 276.6 L146.7 276.3 L147.4 275.9 L148.0 275.6 L148.6 275.3 L149.2 275.0 L149.8 274.6 L150.4 274.3 L151.0 274.0 L151.6 273.6 L152.2 273.3 L152.8 273.0 L153.4 272.6 L154.0 272.3 L154.6 272.0 L155.2 271.6 L155.8 271.3 L156.4 270.9 L157.0 270.6 L157.6 270.3 L158.2 269.9 L158.9 269.6 L159.5 269.2 L160.1 268.8 L160.7 268.5 L161.3 268.1 L161.9 267.8 L162.5 267.4 L163.1 267.1 L163.7 266.7 L164.3 266.3 L164.9 266.0 L165.5 265.6 L166.1 265.2 L166.7 264.9 L167.3 264.5 L167.9 264.1 L168.5 263.8 L169.1 263.4 L169.7 263.0 L170.4 262.6 L171.0 262.3 L171.6 261.9 L172.2 261.5 L172.8 261.1 L173.4 260.7 L174.0 260.4 L174.6 260.0 L175.2 259.6 L175.8 259.2 L176.4 258.8 L177.0 258.4 L177.6 258.0 L178.2 257.6 L178.8 257.2 L179.4 256.8 L180.0 256.4 L180.6 256.0 L181.3 255.6 L181.9 255.2 L182.5 254.8 L183.1 254.4 L183.7 254.0 L184.3 253.6 L184.9 253.2 L185.5 252.8 L186.1 252.4 L186.7 252.0 L187.3 251.6 L187.9 251.2 L188.5 250.8 L189.1 250.4 L189.7 250.0 L190.3 249.5 L190.9 249.1 L191.5 248.7 L192.1 248.3 L192.8 247.9 L193.4 247.5 L194.0 247.0 L194.6 246.6 L195.2 246.2 L195.8 245.8 L196.4 245.4 L197.0 244.9 L197.6 244.5 L198.2 244.1 L198.8 243.7 L199.4 243.2 L200.0 242.8 L200.6 242.4 L201.2 242.0 L201.8 241.5 L202.4 241.1 L203.0 240.7 L203.6 240.2 L204.3 239.8 L204.9 239.4 L205.5 238.9 L206.1 238.5 L206.7 238.1 L207.3 237.6 L207.9 237.2 L208.5 236.7 L209.1 236.3 L209.7 235.9 L210.3 235.4 L210.9 235.0 L211.5 234.5 L212.1 234.1 L212.7 233.6 L213.3 233.2 L213.9 232.7 L214.5 232.3 L215.1 231.9 L215.8 231.4 L216.4 231.0 L217.0 230.5 L217.6 230.0 L218.2 229.6 L218.8 229.1 L219.4 228.7 L220.0 228.2 L220.6 227.8 L221.2 227.3 L221.8 226.8 L222.4 226.4 L223.0 225.9 L223.6 225.5 L224.2 225.0 L224.8 224.5 L225.4 224.1 L226.0 223.6 L226.6 223.1 L227.3 222.7 L227.9 222.2 L228.5 221.7 L229.1 221.2 L229.7 220.7 L230.3 220.3 L230.9 219.8 L231.5 219.3 L232.1 218.8 L232.7 218.3 L233.3 217.8 L233.9 217.4 L234.5 216.9 L235.1 216.4 L235.7 215.9 L236.3 215.4 L236.9 214.9 L237.5 214.4 L238.2 213.9 L238.8 213.4 L239.4 212.8 L240.0 212.3 L240.6 211.8 L241.2 211.3 L241.8 210.8 L242.4 210.3 L243.0 209.7 L243.6 209.2 L244.2 208.7 L244.8 208.1 L245.4 207.6 L246.0 207.1 L246.6 206.5 L247.2 206.0 L247.8 205.4 L248.4 204.9 L249.0 204.3 L249.7 203.8 L250.3 203.2 L250.9 202.6 L251.5 202.1 L252.1 201.5 L252.7 200.9 L253.3 200.3 L253.9 199.7 L254.5 199.1 L255.1 198.5 L255.7 197.9 L256.3 197.3 L256.9 196.7 L257.5 196.1 L258.1 195.5 L258.7 194.9 L259.3 194.2 L259.9 193.6 L260.5 192.9 L261.2 192.3 L261.8 191.6 L262.4 191.0 L263.0 190.3 L263.6 189.6 L264.2 189.0 L264.8 188.3 L265.4 187.6 L266.0 186.9 L266.6 186.2 L267.2 185.5 L267.8 184.7 L268.4 184.0 L269.0 183.3 L269.6 182.6 L270.2 181.8 L270.8 181.1 L271.4 180.3 L272.0 179.6 L272.7 178.9 L273.3 178.1 L273.9 177.4 L274.5 176.6 L275.1 175.9 L275.7 175.1 L276.3 174.4 L276.9 173.7 L277.5 172.9 L278.1 172.2 L278.7 171.4 L279.3 170.7 L279.9 170.0 L280.5 169.3 L281.1 168.6 L281.7 167.9 L282.3 167.3 L282.9 166.7 L283.6 166.1 L284.2 165.6 L284.8 165.1 L285.4 164.7 L286.0 164.3 L286.6 164.0 L287.2 163.7 L287.8 163.4 L288.4 163.2 L289.0 163.0 L289.6 162.9 L290.2 162.8 L290.8 162.8 L291.4 162.9 L292.0 163.0 L292.6 163.2 L293.2 163.4 L293.8 163.8 L294.4 164.2 L295.1 164.7 L295.7 165.3 L296.3 166.0 L296.9 166.7 L297.5 167.5 L298.1 168.3 L298.7 169.1 L299.3 170.0 L299.9 170.8 L300.5 171.6 L301.2 170.3 L302.0 168.9 L302.8 167.6 L303.7 166.3 L304.6 164.9 L305.5 163.6 L306.3 162.2 L307.2 160.9 L308.1 159.6 L309.0 158.2 L309.8 156.9 L310.7 155.6 L311.5 154.2 L312.3 152.9 L313.2 151.5 L314.0 150.2 L314.8 148.9 L315.6 147.5 L316.4 146.2 L317.1 144.9 L317.9 143.5 L318.6 142.2 L319.4 140.8 L320.1 139.5 L320.9 138.2 L321.6 136.8 L322.3 135.5 L323.0 134.2 L323.7 132.8 L324.4 131.5 L325.0 130.2 L325.7 128.8 L326.3 127.5 L327.0 126.1 L327.6 124.8 L328.3 123.5 L328.9 122.1 L329.5 120.8 L330.1 119.5 L330.7 118.1 L331.3 116.8 L331.9 115.4 L332.5 114.1 L333.0 112.8 L333.6 111.4 L334.2 110.1 L334.7 108.8 L335.3 107.4 L335.8 106.1 L336.3 104.7 L336.8 103.4 L337.4 102.1 L337.9 100.7 L338.4 99.4 L338.9 98.1 L339.3 96.7 L339.8 95.4 L340.3 94.0 L340.8 92.7 L341.2 91.4 L341.7 90.0 L342.2 88.7 L342.6 87.4 L343.0 86.0 L343.5 84.7 L343.9 83.4 L344.3 82.0 L344.8 80.7 L345.2 79.3 L345.6 78.0 L346.0 76.7 L346.4 75.3 L346.8 74.0 L347.2 72.7 L347.6 71.3 L348.0 70.0 L348.3 68.6 L348.7 67.3 L349.1 66.0 L349.5 64.6 L349.8 63.3 L350.2 62.0 L350.5 60.6 L350.9 59.3 L351.2 57.9 L351.6 56.6 L351.9 55.3 L352.3 53.9 L352.6 52.6" stroke="#00f" stroke-width="2.1"/>
<path d="M282.7 167.3H303.4M277.4 176.4H307.9" stroke="#000" stroke-width="1.6"/>
<!-- bottom-left curves -->
<path d="M98.7 637.6 L99.3 637.3 L100.0 637.0 L100.6 636.7 L101.3 636.4 L101.9 636.1 L102.5 635.8 L103.2 635.5 L103.8 635.2 L104.4 634.9 L105.1 634.6 L105.7 634.3 L106.4 634.0 L107.0 633.7 L107.6 633.4 L108.3 633.2 L108.9 632.9 L109.6 632.6 L110.2 632.3 L110.8 632.0 L111.5 631.8 L112.1 631.5 L112.7 631.2 L113.4 630.9 L114.0 630.6 L114.7 630.4 L115.3 630.1 L115.9 629.8 L116.6 629.5 L117.2 629.3 L117.8 629.0 L118.5 628.7 L119.1 628.4 L119.8 628.2 L120.4 627.9 L121.0 627.6 L121.7 627.3 L122.3 627.1 L123.0 626.8 L123.6 626.5 L124.2 626.2 L124.9 626.0 L125.5 625.7 L126.1 625.4 L126.8 625.1 L127.4 624.9 L128.1 624.6 L128.7 624.3 L129.3 624.0 L130.0 623.7 L130.6 623.4 L131.3 623.2 L131.9 622.9 L132.5 622.6 L133.2 622.3 L133.8 622.0 L134.4 621.7 L135.1 621.4 L135.7 621.2 L136.4 620.9 L137.0 620.6 L137.6 620.3 L138.3 620.0 L138.9 619.7 L139.5 619.4 L140.2 619.1 L140.8 618.8 L141.5 618.5 L142.1 618.2 L142.7 617.9 L143.4 617.6 L144.0 617.3 L144.7 617.0 L145.3 616.6 L145.9 616.3 L146.6 616.0 L147.2 615.7 L147.8 615.4 L148.5 615.1 L149.1 614.7 L149.8 614.4 L150.4 614.1 L151.0 613.8 L151.7 613.5 L152.3 613.1 L153.0 612.8 L153.6 612.5 L154.2 612.1 L154.9 611.8 L155.5 611.5 L156.1 611.1 L156.8 610.8 L157.4 610.5 L158.1 610.1 L158.7 609.8 L159.3 609.4 L160.0 609.1 L160.6 608.7 L161.2 608.4 L161.9 608.0 L162.5 607.7 L163.2 607.3 L163.8 607.0 L164.4 606.6 L165.1 606.2 L165.7 605.9 L166.4 605.5 L167.0 605.2 L167.6 604.8 L168.3 604.4 L168.9 604.1 L169.5 603.7 L170.2 603.3 L170.8 602.9 L171.5 602.6 L172.1 602.2 L172.7 601.8 L173.4 601.4 L174.0 601.1 L174.7 600.7 L175.3 600.3 L175.9 599.9 L176.6 599.5 L177.2 599.1 L177.8 598.7 L178.5 598.3 L179.1 598.0 L179.8 597.6 L180.4 597.2 L181.0 596.8 L181.7 596.4 L182.3 596.0 L182.9 595.6 L183.6 595.2 L184.2 594.8 L184.9 594.4 L185.5 594.0 L186.1 593.6 L186.8 593.1 L187.4 592.7 L188.1 592.3 L188.7 591.9 L189.3 591.5 L190.0 591.1 L190.6 590.7 L191.2 590.3 L191.9 589.8 L192.5 589.4 L193.2 589.0 L193.8 588.6 L194.4 588.2 L195.1 587.7 L195.7 587.3 L196.4 586.9 L197.0 586.5 L197.6 586.0 L198.3 585.6 L198.9 585.2 L199.5 584.7 L200.2 584.3 L200.8 583.9 L201.5 583.4 L202.1 583.0 L202.7 582.6 L203.4 582.1 L204.0 581.7 L204.6 581.3 L205.3 580.8 L205.9 580.4 L206.6 579.9 L207.2 579.5 L207.8 579.0 L208.5 578.6 L209.1 578.1 L209.8 577.7 L210.4 577.2 L211.0 576.8 L211.7 576.3 L212.3 575.9 L212.9 575.4 L213.6 575.0 L214.2 574.5 L214.9 574.1 L215.5 573.6 L216.1 573.2 L216.8 572.7 L217.4 572.2 L218.1 571.8 L218.7 571.3 L219.3 570.9 L220.0 570.4 L220.6 569.9 L221.2 569.5 L221.9 569.0 L222.5 568.5 L223.2 568.0 L223.8 567.6 L224.4 567.1 L225.1 566.6 L225.7 566.1 L226.3 565.7 L227.0 565.2 L227.6 564.7 L228.3 564.2 L228.9 563.7 L229.5 563.3 L230.2 562.8 L230.8 562.3 L231.5 561.8 L232.1 561.3 L232.7 560.8 L233.4 560.3 L234.0 559.8 L234.6 559.3 L235.3 558.8 L235.9 558.3 L236.6 557.8 L237.2 557.3 L237.8 556.8 L238.5 556.3 L239.1 555.8 L239.8 555.3 L240.4 554.7 L241.0 554.2 L241.7 553.7 L242.3 553.2 L242.9 552.6 L243.6 552.1 L244.2 551.6 L244.9 551.1 L245.5 550.5 L246.1 550.0 L246.8 549.4 L247.4 548.9 L248.0 548.3 L248.7 547.8 L249.3 547.2 L250.0 546.7 L250.6 546.1 L251.2 545.6 L251.9 545.0 L252.5 544.4 L253.2 543.9 L253.8 543.3 L254.4 542.7 L255.1 542.1 L255.7 541.5 L256.3 540.9 L257.0 540.3 L257.6 539.7 L258.3 539.1 L258.9 538.5 L259.5 537.9 L260.2 537.3 L260.8 536.7 L261.5 536.0 L262.1 535.4 L262.7 534.8 L263.4 534.2 L264.0 533.5 L264.6 532.9 L265.3 532.2 L265.9 531.5 L266.6 530.8 L267.2 530.1 L267.8 529.4 L268.5 528.7 L269.1 528.0 L269.7 527.3 L270.4 526.6 L271.0 525.9 L271.7 525.2 L272.3 524.5 L272.9 523.8 L273.6 523.2 L274.2 522.6 L274.9 522.0 L275.5 521.4 L276.1 520.8 L276.8 520.2 L277.4 519.6 L278.0 519.1 L278.7 518.5 L279.3 517.9 L280.0 517.3 L280.6 516.7 L281.2 516.1 L281.9 515.6 L282.5 515.1 L283.2 514.6 L283.8 514.2 L284.4 513.9 L285.1 513.6 L285.7 513.3 L286.3 513.1 L287.0 513.0 L287.6 512.9 L288.3 512.9 L288.9 512.9 L289.5 512.9 L290.2 513.0 L290.8 513.2 L291.4 513.4 L292.1 513.7 L292.7 514.0 L293.4 514.4 L294.0 514.9 L294.6 515.5 L295.3 516.1 L295.9 516.8 L296.6 517.7 L297.2 518.6 L297.8 519.6 L298.5 520.7 L299.1 521.9 L299.7 523.1 L300.4 524.3 L301.0 525.4 L301.7 526.4 L302.3 527.2 L303.4 525.7 L304.5 524.2 L305.6 522.7 L306.7 521.3 L307.8 519.8 L308.9 518.3 L310.0 516.8 L311.0 515.3 L312.1 513.8 L313.1 512.3 L314.2 510.8 L315.2 509.4 L316.3 507.9 L317.3 506.4 L318.3 504.9 L319.4 503.4 L320.4 501.9 L321.4 500.4 L322.4 499.0 L323.4 497.5 L324.4 496.0 L325.3 494.5 L326.3 493.0 L327.3 491.5 L328.2 490.0 L329.2 488.6 L330.1 487.1 L331.0 485.6 L332.0 484.1 L332.9 482.6 L333.8 481.1 L334.7 479.6 L335.6 478.1 L336.5 476.7 L337.3 475.2 L338.2 473.7 L339.1 472.2 L339.9 470.7 L340.8 469.2 L341.6 467.7 L342.4 466.3 L343.2 464.8 L344.0 463.3 L344.8 461.8 L345.6 460.3 L346.4 458.8 L347.2 457.3 L347.9 455.8 L348.7 454.4 L349.4 452.9 L350.2 451.4 L350.9 449.9 L351.6 448.4 L352.3 446.9 L353.0 445.4 L353.7 444.0 L354.3 442.5 L355.0 441.0 L355.7 439.5 L356.3 438.0 L356.9 436.5 L357.6 435.0 L358.2 433.5 L358.8 432.1 L359.4 430.6 L359.9 429.1 L360.5 427.6 L361.1 426.1 L361.6 424.6 L362.1 423.1 L362.7 421.7 L363.2 420.2 L363.7 418.7 L364.2 417.2 L364.6 415.7 L365.1 414.2 L365.5 412.7 L366.0 411.3 L366.4 409.8 L366.8 408.3 L367.2 406.8 L367.6 405.3 L368.0 403.8 L368.4 402.3 L368.7 400.8 L369.1 399.4 L369.4 397.9 L369.7 396.4 L370.0 394.9" stroke="#f00" stroke-width="2.1"/>
<path d="M83.0 637.9 L83.7 637.5 L84.4 637.2 L85.0 636.8 L85.7 636.5 L86.4 636.1 L87.1 635.8 L87.8 635.4 L88.4 635.1 L89.1 634.8 L89.8 634.4 L90.5 634.1 L91.2 633.8 L91.8 633.5 L92.5 633.1 L93.2 632.8 L93.9 632.5 L94.6 632.2 L95.2 631.9 L95.9 631.6 L96.6 631.3 L97.3 631.0 L98.0 630.7 L98.6 630.4 L99.3 630.1 L100.0 629.8 L100.7 629.5 L101.4 629.2 L102.0 628.9 L102.7 628.6 L103.4 628.3 L104.1 628.0 L104.8 627.7 L105.4 627.4 L106.1 627.1 L106.8 626.8 L107.5 626.5 L108.2 626.2 L108.8 626.0 L109.5 625.7 L110.2 625.4 L110.9 625.1 L111.6 624.8 L112.3 624.5 L112.9 624.2 L113.6 623.9 L114.3 623.6 L115.0 623.3 L115.7 623.0 L116.3 622.8 L117.0 622.5 L117.7 622.2 L118.4 621.9 L119.1 621.6 L119.7 621.3 L120.4 621.0 L121.1 620.7 L121.8 620.4 L122.5 620.1 L123.1 619.8 L123.8 619.5 L124.5 619.2 L125.2 618.9 L125.9 618.6 L126.5 618.3 L127.2 618.0 L127.9 617.7 L128.6 617.4 L129.3 617.0 L129.9 616.7 L130.6 616.4 L131.3 616.1 L132.0 615.8 L132.7 615.5 L133.3 615.1 L134.0 614.8 L134.7 614.5 L135.4 614.2 L136.1 613.9 L136.7 613.5 L137.4 613.2 L138.1 612.9 L138.8 612.5 L139.5 612.2 L140.1 611.9 L140.8 611.5 L141.5 611.2 L142.2 610.9 L142.9 610.5 L143.5 610.2 L144.2 609.8 L144.9 609.5 L145.6 609.1 L146.3 608.8 L146.9 608.4 L147.6 608.1 L148.3 607.7 L149.0 607.4 L149.7 607.0 L150.3 606.6 L151.0 606.3 L151.7 605.9 L152.4 605.5 L153.1 605.2 L153.7 604.8 L154.4 604.4 L155.1 604.1 L155.8 603.7 L156.5 603.3 L157.1 602.9 L157.8 602.5 L158.5 602.2 L159.2 601.8 L159.9 601.4 L160.5 601.0 L161.2 600.6 L161.9 600.2 L162.6 599.8 L163.3 599.4 L163.9 599.0 L164.6 598.6 L165.3 598.2 L166.0 597.8 L166.7 597.4 L167.4 597.0 L168.0 596.6 L168.7 596.2 L169.4 595.8 L170.1 595.4 L170.8 595.0 L171.4 594.6 L172.1 594.2 L172.8 593.7 L173.5 593.3 L174.2 592.9 L174.8 592.5 L175.5 592.0 L176.2 591.6 L176.9 591.2 L177.6 590.8 L178.2 590.3 L178.9 589.9 L179.6 589.5 L180.3 589.0 L181.0 588.6 L181.6 588.2 L182.3 587.7 L183.0 587.3 L183.7 586.8 L184.4 586.4 L185.0 585.9 L185.7 585.5 L186.4 585.0 L187.1 584.6 L187.8 584.1 L188.4 583.7 L189.1 583.2 L189.8 582.8 L190.5 582.3 L191.2 581.9 L191.8 581.4 L192.5 580.9 L193.2 580.5 L193.9 580.0 L194.6 579.5 L195.2 579.1 L195.9 578.6 L196.6 578.1 L197.3 577.7 L198.0 577.2 L198.6 576.7 L199.3 576.2 L200.0 575.8 L200.7 575.3 L201.4 574.8 L202.0 574.3 L202.7 573.8 L203.4 573.3 L204.1 572.8 L204.8 572.4 L205.4 571.9 L206.1 571.4 L206.8 570.9 L207.5 570.4 L208.2 569.9 L208.8 569.4 L209.5 568.9 L210.2 568.4 L210.9 567.9 L211.6 567.4 L212.2 566.9 L212.9 566.4 L213.6 565.9 L214.3 565.3 L215.0 564.8 L215.6 564.3 L216.3 563.8 L217.0 563.3 L217.7 562.7 L218.4 562.2 L219.1 561.7 L219.7 561.2 L220.4 560.6 L221.1 560.1 L221.8 559.6 L222.5 559.0 L223.1 558.5 L223.8 558.0 L224.5 557.4 L225.2 556.9 L225.9 556.3 L226.5 555.8 L227.2 555.2 L227.9 554.7 L228.6 554.1 L229.3 553.5 L229.9 553.0 L230.6 552.4 L231.3 551.8 L232.0 551.3 L232.7 550.7 L233.3 550.1 L234.0 549.5 L234.7 548.9 L235.4 548.3 L236.1 547.7 L236.7 547.2 L237.4 546.6 L238.1 545.9 L238.8 545.3 L239.5 544.7 L240.1 544.1 L240.8 543.5 L241.5 542.9 L242.2 542.2 L242.9 541.6 L243.5 541.0 L244.2 540.3 L244.9 539.7 L245.6 539.1 L246.3 538.4 L246.9 537.7 L247.6 537.1 L248.3 536.4 L249.0 535.7 L249.7 535.1 L250.3 534.4 L251.0 533.7 L251.7 533.0 L252.4 532.3 L253.1 531.6 L253.7 530.9 L254.4 530.2 L255.1 529.4 L255.8 528.7 L256.5 528.0 L257.1 527.2 L257.8 526.5 L258.5 525.7 L259.2 525.0 L259.9 524.2 L260.5 523.4 L261.2 522.6 L261.9 521.8 L262.6 521.0 L263.3 520.2 L263.9 519.4 L264.6 518.6 L265.3 517.7 L266.0 516.9 L266.7 516.0 L267.3 515.2 L268.0 514.3 L268.7 513.5 L269.4 512.6 L270.1 511.7 L270.7 510.8 L271.4 509.9 L272.1 509.0 L272.8 508.1 L273.5 507.2 L274.2 506.3 L274.8 505.4 L275.5 504.5 L276.2 503.6 L276.9 502.7 L277.6 501.8 L278.2 500.9 L278.9 500.1 L279.6 499.2 L280.3 498.3 L281.0 497.4 L281.6 496.5 L282.3 495.6 L283.0 494.7 L283.7 493.8 L284.4 493.0 L285.0 492.2 L285.7 491.5 L286.4 490.9 L287.1 490.4 L287.8 490.1 L288.4 489.8 L289.1 489.7 L289.8 489.7 L290.5 489.7 L291.2 489.9 L291.8 490.2 L292.5 490.7 L293.2 491.3 L293.9 492.0 L294.6 492.8 L295.2 493.8 L295.9 494.9 L296.6 496.2 L297.3 497.5 L298.0 498.8 L298.6 500.2 L299.3 501.7 L300.0 503.1 L300.6 501.9 L301.2 500.7 L301.9 499.5 L302.6 498.2 L303.3 497.0 L304.0 495.8 L304.7 494.6 L305.4 493.4 L306.1 492.2 L306.8 491.0 L307.5 489.8 L308.2 488.5 L308.9 487.3 L309.6 486.1 L310.3 484.9 L310.9 483.7 L311.6 482.5 L312.3 481.3 L313.0 480.0 L313.7 478.8 L314.4 477.6 L315.0 476.4 L315.7 475.2 L316.4 474.0 L317.0 472.8 L317.7 471.5 L318.4 470.3 L319.0 469.1 L319.7 467.9 L320.3 466.7 L321.0 465.5 L321.6 464.3 L322.2 463.1 L322.9 461.8 L323.5 460.6 L324.1 459.4 L324.7 458.2 L325.3 457.0 L326.0 455.8 L326.6 454.6 L327.2 453.3 L327.8 452.1 L328.3 450.9 L328.9 449.7 L329.5 448.5 L330.1 447.3 L330.6 446.1 L331.2 444.9 L331.8 443.6 L332.3 442.4 L332.9 441.2 L333.4 440.0 L333.9 438.8 L334.5 437.6 L335.0 436.4 L335.5 435.1 L336.0 433.9 L336.5 432.7 L337.0 431.5 L337.5 430.3 L337.9 429.1 L338.4 427.9 L338.9 426.7 L339.3 425.4 L339.8 424.2 L340.2 423.0 L340.7 421.8 L341.1 420.6 L341.5 419.4 L341.9 418.2 L342.3 416.9 L342.7 415.7 L343.1 414.5 L343.5 413.3 L343.8 412.1 L344.2 410.9 L344.5 409.7 L344.9 408.4 L345.2 407.2 L345.5 406.0 L345.9 404.8 L346.2 403.6 L346.5 402.4 L346.7 401.2 L347.0 400.0 L347.3 398.7 L347.5 397.5 L347.8 396.3 L348.0 395.1" stroke="#00f" stroke-width="2.1"/>
<path d="M281.5 496.5H303.8M277.4 519.9H307.9" stroke="#000" stroke-width="1.6"/>
<!-- right panels -->
<g stroke-width="0.9" stroke-linejoin="miter">
<path d="M400.2 59.0 L403.2 74.7 L408.1 97.8 L414.7 125.9 L421.3 147.3 L424.8 156.5 L427.7 167.7 L520.0 168.9 L600.0 169.9 L675.3 170.4 L600.0 170.9 L555.0 172.3 L534.4 174.1 L520.6 176.8 L514.2 180.0 L516.5 182.5 L515.1 182.2 L500.0 183.0 L440.4 184.6 L439.1 187.0 L441.3 196.1 L444.9 202.4 L450.0 206.9 L447.9 209.3 L454.8 221.5 L463.0 233.8 L472.9 242.9 L481.5 250.3 L482.8 253.6 L486.6 255.3 L483.2 257.8 L488.1 260.3 L487.8 262.7 L493.6 264.4 L494.0 267.3 L501.0 269.7 L505.9 274.6 L506.3 279.2 L510.9 281.2 L512.5 285.8 L523.8 293.8" stroke="#f22"/>
<path d="M398.5 59.5 L401.5 78.0 L406.5 102.8 L413.1 132.5 L420.6 160.5 L505.0 161.9 L602.7 163.3 L582.5 163.9 L555.0 165.1 L534.4 166.5 L516.2 167.9 L515.1 170.4 L500.0 170.9 L434.7 172.5 L432.5 177.1 L433.8 186.2 L438.0 197.8 L443.2 206.9 L447.0 209.0 L444.9 211.4 L453.1 226.4 L461.4 238.8 L467.1 245.4 L472.9 248.7 L477.9 255.3 L481.5 257.4 L481.2 260.3 L484.5 266.0 L488.6 270.2 L497.7 275.1 L500.2 280.1 L504.3 285.0 L509.2 290.0 L514.2 293.8" stroke="#33f"/>
<path d="M400.2 402.5 L403.2 418.2 L408.1 441.3 L414.7 469.4 L421.3 490.8 L424.8 500.0 L427.7 511.2 L520.0 512.4 L600.0 513.4 L675.3 513.9 L600.0 514.4 L555.0 515.8 L534.4 517.6 L520.6 520.3 L514.2 523.5 L516.5 526.0 L515.1 525.7 L500.0 526.5 L440.4 528.1 L439.1 530.5 L441.3 539.6 L444.9 545.9 L450.0 550.4 L447.9 552.8 L454.8 565.0 L463.0 577.3 L472.9 586.4 L481.5 593.8 L482.8 597.1 L486.6 598.8 L483.2 601.3 L488.1 603.8 L487.8 606.2 L493.6 607.9 L494.0 610.8 L501.0 613.2 L505.9 618.1 L506.3 622.7 L510.9 624.7 L512.5 629.3 L523.8 637.3" stroke="#f22"/>
<path d="M400.4 401.9 L403.2 421.4 L407.3 444.5 L413.1 467.6 L420.0 487.1 L505.0 488.7 L553.0 489.4 L520.0 492.0 L502.4 494.2 L493.6 496.8 L487.0 499.7 L465.0 503.0 L428.5 506.4 L428.7 511.8 L432.0 522.8 L438.6 538.2 L445.7 550.7 L449.8 552.4 L451.8 555.2 L450.1 557.8 L457.2 568.1 L459.7 569.7 L460.5 573.0 L463.0 574.3 L463.8 577.1 L472.9 586.2 L481.2 595.3 L486.9 598.1 L492.7 603.6 L496.0 608.5 L500.2 611.0 L502.6 615.1 L505.9 617.6 L508.4 621.2 L512.5 624.2 L519.1 630.5 L525.7 633.8 L528.7 637.4" stroke="#33f"/>
</g>
</g>
<g>
<text y="335.8" font-size="24.6" stroke="#000" stroke-width="0.2"><tspan x="58.94" textLength="16.00" lengthAdjust="spacingAndGlyphs">&#8722;</tspan><tspan x="76.96" textLength="14.72" lengthAdjust="spacingAndGlyphs">2</tspan><tspan x="91.21" textLength="13.68" lengthAdjust="spacingAndGlyphs">0</tspan><tspan x="106.80" textLength="13.80" lengthAdjust="spacingAndGlyphs">0</tspan></text>
<text y="335.8" font-size="24.6" stroke="#000" stroke-width="0.2"><tspan x="160.72" textLength="16.24" lengthAdjust="spacingAndGlyphs">&#8722;</tspan><tspan x="180.53" textLength="10.37" lengthAdjust="spacingAndGlyphs">1</tspan><tspan x="193.03" textLength="13.45" lengthAdjust="spacingAndGlyphs">0</tspan><tspan x="208.39" textLength="13.92" lengthAdjust="spacingAndGlyphs">0</tspan></text>
<text y="335.8" font-size="24.6" stroke="#000" stroke-width="0.2"><tspan x="286.29" textLength="13.92" lengthAdjust="spacingAndGlyphs">0</tspan></text>
<text y="84.4" font-size="24.6" stroke="#000" stroke-width="0.2"><tspan x="51.29" textLength="13.92" lengthAdjust="spacingAndGlyphs">0</tspan></text>
<text y="165.1" font-size="24.6" stroke="#000" stroke-width="0.2"><tspan x="53.38" textLength="9.52" lengthAdjust="spacingAndGlyphs">1</tspan></text>
<text y="245.8" font-size="24.6" stroke="#000" stroke-width="0.2"><tspan x="51.06" textLength="14.72" lengthAdjust="spacingAndGlyphs">2</tspan></text>
<text y="370.3" font-size="27.5" stroke="#000" stroke-width="0.15"><tspan x="130.95" textLength="8.58" lengthAdjust="spacingAndGlyphs">t</tspan> <tspan x="156.46" textLength="18.06" lengthAdjust="spacingAndGlyphs">&#8722;</tspan> <tspan x="191.26" textLength="8.26" lengthAdjust="spacingAndGlyphs">t</tspan></text>
<text y="378.6" font-size="17" stroke="#000" stroke-width="0.45"><tspan x="202.67" textLength="11.00" lengthAdjust="spacingAndGlyphs">R</tspan><tspan x="214.81" textLength="9.45" lengthAdjust="spacingAndGlyphs">G</tspan><tspan x="225.40" textLength="10.53" lengthAdjust="spacingAndGlyphs">B</tspan><tspan x="236.71" textLength="10.30" lengthAdjust="spacingAndGlyphs">B</tspan></text>
<text y="370.3" font-size="27.5" stroke="#000" stroke-width="0.15"><tspan x="261.25" textLength="9.08" lengthAdjust="spacingAndGlyphs">(</tspan><tspan x="272.59" textLength="20.44" lengthAdjust="spacingAndGlyphs">M</tspan><tspan x="292.71" textLength="13.95" lengthAdjust="spacingAndGlyphs">y</tspan><tspan x="308.93" textLength="11.17" lengthAdjust="spacingAndGlyphs">r</tspan><tspan x="323.13" textLength="9.47" lengthAdjust="spacingAndGlyphs">)</tspan></text>
<g transform="translate(28.4,195.3) rotate(-90)"><text y="0.0" font-size="28"><tspan x="-0.05" textLength="18.51" lengthAdjust="spacingAndGlyphs">M</tspan></text><text y="8.0" font-size="17.5" stroke="#000" stroke-width="0.5"><tspan x="20.04" textLength="8.17" lengthAdjust="spacingAndGlyphs">B</tspan><tspan x="29.11" textLength="7.08" lengthAdjust="spacingAndGlyphs">o</tspan><tspan x="38.55" textLength="5.59" lengthAdjust="spacingAndGlyphs">l</tspan></text></g>
<text y="679.3" font-size="24.6" stroke="#000" stroke-width="0.2"><tspan x="58.94" textLength="16.00" lengthAdjust="spacingAndGlyphs">&#8722;</tspan><tspan x="76.96" textLength="14.72" lengthAdjust="spacingAndGlyphs">2</tspan><tspan x="91.21" textLength="13.68" lengthAdjust="spacingAndGlyphs">0</tspan><tspan x="106.80" textLength="13.80" lengthAdjust="spacingAndGlyphs">0</tspan></text>
<text y="679.3" font-size="24.6" stroke="#000" stroke-width="0.2"><tspan x="160.72" textLength="16.24" lengthAdjust="spacingAndGlyphs">&#8722;</tspan><tspan x="180.53" textLength="10.37" lengthAdjust="spacingAndGlyphs">1</tspan><tspan x="193.03" textLength="13.45" lengthAdjust="spacingAndGlyphs">0</tspan><tspan x="208.39" textLength="13.92" lengthAdjust="spacingAndGlyphs">0</tspan></text>
<text y="679.3" font-size="24.6" stroke="#000" stroke-width="0.2"><tspan x="286.29" textLength="13.92" lengthAdjust="spacingAndGlyphs">0</tspan></text>
<text y="427.9" font-size="24.6" stroke="#000" stroke-width="0.2"><tspan x="51.29" textLength="13.92" lengthAdjust="spacingAndGlyphs">0</tspan></text>
<text y="508.6" font-size="24.6" stroke="#000" stroke-width="0.2"><tspan x="53.38" textLength="9.52" lengthAdjust="spacingAndGlyphs">1</tspan></text>
<text y="589.3" font-size="24.6" stroke="#000" stroke-width="0.2"><tspan x="51.06" textLength="14.72" lengthAdjust="spacingAndGlyphs">2</tspan></text>
<text y="713.8" font-size="27.5" stroke="#000" stroke-width="0.15"><tspan x="130.95" textLength="8.58" lengthAdjust="spacingAndGlyphs">t</tspan> <tspan x="156.46" textLength="18.06" lengthAdjust="spacingAndGlyphs">&#8722;</tspan> <tspan x="191.26" textLength="8.26" lengthAdjust="spacingAndGlyphs">t</tspan></text>
<text y="722.1" font-size="17" stroke="#000" stroke-width="0.45"><tspan x="202.67" textLength="11.00" lengthAdjust="spacingAndGlyphs">R</tspan><tspan x="214.81" textLength="9.45" lengthAdjust="spacingAndGlyphs">G</tspan><tspan x="225.40" textLength="10.53" lengthAdjust="spacingAndGlyphs">B</tspan><tspan x="236.71" textLength="10.30" lengthAdjust="spacingAndGlyphs">B</tspan></text>
<text y="713.8" font-size="27.5" stroke="#000" stroke-width="0.15"><tspan x="261.25" textLength="9.08" lengthAdjust="spacingAndGlyphs">(</tspan><tspan x="272.59" textLength="20.44" lengthAdjust="spacingAndGlyphs">M</tspan><tspan x="292.71" textLength="13.95" lengthAdjust="spacingAndGlyphs">y</tspan><tspan x="308.93" textLength="11.17" lengthAdjust="spacingAndGlyphs">r</tspan><tspan x="323.13" textLength="9.47" lengthAdjust="spacingAndGlyphs">)</tspan></text>
<g transform="translate(28.4,538.8) rotate(-90)"><text y="0.0" font-size="28"><tspan x="-0.05" textLength="18.51" lengthAdjust="spacingAndGlyphs">M</tspan></text><text y="8.0" font-size="17.5" stroke="#000" stroke-width="0.5"><tspan x="20.04" textLength="8.17" lengthAdjust="spacingAndGlyphs">B</tspan><tspan x="29.11" textLength="7.08" lengthAdjust="spacingAndGlyphs">o</tspan><tspan x="38.55" textLength="5.59" lengthAdjust="spacingAndGlyphs">l</tspan></text></g>
<circle cx="103.6" cy="68.9" r="5.6" fill="#f00"/>
<text y="73.6" font-size="20" fill="#f00" stroke="#f00" stroke-width="0.5"><tspan x="115.88" textLength="6.58" lengthAdjust="spacingAndGlyphs">[</tspan><tspan x="124.59" textLength="14.23" lengthAdjust="spacingAndGlyphs">M</tspan><tspan x="141.27" textLength="8.06" lengthAdjust="spacingAndGlyphs">/</tspan><tspan x="152.36" textLength="12.40" lengthAdjust="spacingAndGlyphs">H</tspan><tspan x="167.27" textLength="6.28" lengthAdjust="spacingAndGlyphs">]</tspan><tspan x="175.02" textLength="13.39" lengthAdjust="spacingAndGlyphs">=</tspan><tspan x="190.80" textLength="12.97" lengthAdjust="spacingAndGlyphs">+</tspan><tspan x="205.42" textLength="10.85" lengthAdjust="spacingAndGlyphs">0</tspan><tspan x="217.55" textLength="3.50" lengthAdjust="spacingAndGlyphs">.</tspan><tspan x="222.10" textLength="11.97" lengthAdjust="spacingAndGlyphs">2</tspan><tspan x="234.82" textLength="10.85" lengthAdjust="spacingAndGlyphs">0</tspan><tspan x="247.71" textLength="3.53" lengthAdjust="spacingAndGlyphs">,</tspan></text>
<text y="95.8" font-size="20" fill="#f00" stroke="#f00" stroke-width="0.5"><tspan x="116.56" textLength="5.30" lengthAdjust="spacingAndGlyphs">t</tspan><tspan x="124.99" textLength="14.30" lengthAdjust="spacingAndGlyphs">=</tspan><tspan x="142.70" textLength="7.10" lengthAdjust="spacingAndGlyphs">1</tspan><tspan x="152.11" textLength="11.85" lengthAdjust="spacingAndGlyphs">2</tspan> <tspan x="173.28" textLength="11.78" lengthAdjust="spacingAndGlyphs">G</tspan><tspan x="186.53" textLength="9.09" lengthAdjust="spacingAndGlyphs">y</tspan><tspan x="199.06" textLength="3.86" lengthAdjust="spacingAndGlyphs">,</tspan></text>
<text y="118.0" font-size="20" fill="#f00" stroke="#f00" stroke-width="0.5"><tspan x="116.96" textLength="12.01" lengthAdjust="spacingAndGlyphs">Y</tspan><tspan x="128.83" textLength="13.82" lengthAdjust="spacingAndGlyphs">=</tspan><tspan x="144.63" textLength="10.74" lengthAdjust="spacingAndGlyphs">0</tspan><tspan x="156.30" textLength="3.50" lengthAdjust="spacingAndGlyphs">.</tspan><tspan x="161.55" textLength="11.35" lengthAdjust="spacingAndGlyphs">2</tspan><tspan x="173.96" textLength="10.66" lengthAdjust="spacingAndGlyphs">9</tspan></text>
<circle cx="103.6" cy="145.9" r="5.6" fill="#00f"/>
<text y="150.6" font-size="20" fill="#00f" stroke="#00f" stroke-width="0.5"><tspan x="115.88" textLength="6.58" lengthAdjust="spacingAndGlyphs">[</tspan><tspan x="124.59" textLength="14.23" lengthAdjust="spacingAndGlyphs">M</tspan><tspan x="141.27" textLength="8.06" lengthAdjust="spacingAndGlyphs">/</tspan><tspan x="152.36" textLength="12.40" lengthAdjust="spacingAndGlyphs">H</tspan><tspan x="167.27" textLength="6.28" lengthAdjust="spacingAndGlyphs">]</tspan><tspan x="175.02" textLength="13.39" lengthAdjust="spacingAndGlyphs">=</tspan><tspan x="190.80" textLength="12.97" lengthAdjust="spacingAndGlyphs">+</tspan><tspan x="205.42" textLength="10.85" lengthAdjust="spacingAndGlyphs">0</tspan><tspan x="217.55" textLength="3.50" lengthAdjust="spacingAndGlyphs">.</tspan><tspan x="222.10" textLength="11.97" lengthAdjust="spacingAndGlyphs">2</tspan><tspan x="234.82" textLength="10.85" lengthAdjust="spacingAndGlyphs">0</tspan><tspan x="247.71" textLength="3.53" lengthAdjust="spacingAndGlyphs">,</tspan></text>
<text y="172.8" font-size="20" fill="#00f" stroke="#00f" stroke-width="0.5"><tspan x="116.56" textLength="5.30" lengthAdjust="spacingAndGlyphs">t</tspan><tspan x="124.99" textLength="14.30" lengthAdjust="spacingAndGlyphs">=</tspan><tspan x="142.70" textLength="7.10" lengthAdjust="spacingAndGlyphs">1</tspan><tspan x="152.11" textLength="11.85" lengthAdjust="spacingAndGlyphs">2</tspan> <tspan x="173.28" textLength="11.78" lengthAdjust="spacingAndGlyphs">G</tspan><tspan x="186.53" textLength="9.09" lengthAdjust="spacingAndGlyphs">y</tspan><tspan x="197.60" textLength="8.13" lengthAdjust="spacingAndGlyphs">r</tspan><tspan x="208.86" textLength="3.86" lengthAdjust="spacingAndGlyphs">,</tspan></text>
<text y="195.0" font-size="20" fill="#00f" stroke="#00f" stroke-width="0.5"><tspan x="116.96" textLength="12.01" lengthAdjust="spacingAndGlyphs">Y</tspan><tspan x="128.83" textLength="13.82" lengthAdjust="spacingAndGlyphs">=</tspan><tspan x="144.63" textLength="10.74" lengthAdjust="spacingAndGlyphs">0</tspan><tspan x="156.30" textLength="3.50" lengthAdjust="spacingAndGlyphs">.</tspan><tspan x="161.50" textLength="11.01" lengthAdjust="spacingAndGlyphs">3</tspan><tspan x="173.34" textLength="11.30" lengthAdjust="spacingAndGlyphs">5</tspan></text>
<circle cx="103.6" cy="412.4" r="5.6" fill="#f00"/>
<text y="417.1" font-size="20" fill="#f00" stroke="#f00" stroke-width="0.5"><tspan x="115.88" textLength="6.58" lengthAdjust="spacingAndGlyphs">[</tspan><tspan x="124.59" textLength="14.23" lengthAdjust="spacingAndGlyphs">M</tspan><tspan x="141.27" textLength="8.06" lengthAdjust="spacingAndGlyphs">/</tspan><tspan x="152.36" textLength="12.40" lengthAdjust="spacingAndGlyphs">H</tspan><tspan x="167.27" textLength="6.28" lengthAdjust="spacingAndGlyphs">]</tspan><tspan x="175.02" textLength="13.39" lengthAdjust="spacingAndGlyphs">=</tspan><tspan x="190.80" textLength="12.97" lengthAdjust="spacingAndGlyphs">+</tspan><tspan x="205.42" textLength="10.85" lengthAdjust="spacingAndGlyphs">0</tspan><tspan x="217.55" textLength="3.50" lengthAdjust="spacingAndGlyphs">.</tspan><tspan x="222.10" textLength="11.97" lengthAdjust="spacingAndGlyphs">2</tspan><tspan x="234.82" textLength="10.85" lengthAdjust="spacingAndGlyphs">0</tspan><tspan x="247.71" textLength="3.53" lengthAdjust="spacingAndGlyphs">,</tspan></text>
<text y="439.3" font-size="20" fill="#f00" stroke="#f00" stroke-width="0.5"><tspan x="116.56" textLength="5.30" lengthAdjust="spacingAndGlyphs">t</tspan><tspan x="124.99" textLength="14.30" lengthAdjust="spacingAndGlyphs">=</tspan><tspan x="142.70" textLength="7.10" lengthAdjust="spacingAndGlyphs">1</tspan><tspan x="152.11" textLength="11.85" lengthAdjust="spacingAndGlyphs">2</tspan> <tspan x="173.28" textLength="11.78" lengthAdjust="spacingAndGlyphs">G</tspan><tspan x="186.53" textLength="9.09" lengthAdjust="spacingAndGlyphs">y</tspan><tspan x="197.60" textLength="8.13" lengthAdjust="spacingAndGlyphs">r</tspan><tspan x="208.86" textLength="3.86" lengthAdjust="spacingAndGlyphs">,</tspan></text>
<text y="461.5" font-size="20" fill="#f00" stroke="#f00" stroke-width="0.5"><tspan x="116.96" textLength="12.01" lengthAdjust="spacingAndGlyphs">Y</tspan><tspan x="128.83" textLength="13.82" lengthAdjust="spacingAndGlyphs">=</tspan><tspan x="144.63" textLength="10.74" lengthAdjust="spacingAndGlyphs">0</tspan><tspan x="156.30" textLength="3.50" lengthAdjust="spacingAndGlyphs">.</tspan><tspan x="161.55" textLength="11.35" lengthAdjust="spacingAndGlyphs">2</tspan><tspan x="173.96" textLength="10.66" lengthAdjust="spacingAndGlyphs">9</tspan></text>
<circle cx="103.6" cy="489.4" r="5.6" fill="#00f"/>
<text y="494.1" font-size="20" fill="#00f" stroke="#00f" stroke-width="0.5"><tspan x="115.88" textLength="6.58" lengthAdjust="spacingAndGlyphs">[</tspan><tspan x="124.59" textLength="14.23" lengthAdjust="spacingAndGlyphs">M</tspan><tspan x="141.27" textLength="8.06" lengthAdjust="spacingAndGlyphs">/</tspan><tspan x="152.36" textLength="12.40" lengthAdjust="spacingAndGlyphs">H</tspan><tspan x="167.27" textLength="6.28" lengthAdjust="spacingAndGlyphs">]</tspan><tspan x="175.02" textLength="13.39" lengthAdjust="spacingAndGlyphs">=</tspan><tspan x="190.80" textLength="12.97" lengthAdjust="spacingAndGlyphs">+</tspan><tspan x="205.42" textLength="10.85" lengthAdjust="spacingAndGlyphs">0</tspan><tspan x="217.55" textLength="3.50" lengthAdjust="spacingAndGlyphs">.</tspan><tspan x="222.10" textLength="11.97" lengthAdjust="spacingAndGlyphs">2</tspan><tspan x="234.82" textLength="10.85" lengthAdjust="spacingAndGlyphs">0</tspan><tspan x="247.71" textLength="3.53" lengthAdjust="spacingAndGlyphs">,</tspan></text>
<text y="516.3" font-size="20" fill="#00f" stroke="#00f" stroke-width="0.5"><tspan x="116.76" textLength="5.30" lengthAdjust="spacingAndGlyphs">t</tspan><tspan x="125.25" textLength="14.66" lengthAdjust="spacingAndGlyphs">=</tspan><tspan x="141.22" textLength="10.86" lengthAdjust="spacingAndGlyphs">7</tspan> <tspan x="161.76" textLength="12.22" lengthAdjust="spacingAndGlyphs">G</tspan><tspan x="175.43" textLength="9.09" lengthAdjust="spacingAndGlyphs">y</tspan><tspan x="186.20" textLength="8.13" lengthAdjust="spacingAndGlyphs">r</tspan><tspan x="197.09" textLength="3.69" lengthAdjust="spacingAndGlyphs">,</tspan></text>
<text y="538.5" font-size="20" fill="#00f" stroke="#00f" stroke-width="0.5"><tspan x="116.96" textLength="12.01" lengthAdjust="spacingAndGlyphs">Y</tspan><tspan x="128.83" textLength="13.82" lengthAdjust="spacingAndGlyphs">=</tspan><tspan x="144.63" textLength="10.74" lengthAdjust="spacingAndGlyphs">0</tspan><tspan x="156.30" textLength="3.50" lengthAdjust="spacingAndGlyphs">.</tspan><tspan x="161.55" textLength="11.35" lengthAdjust="spacingAndGlyphs">2</tspan><tspan x="173.96" textLength="10.66" lengthAdjust="spacingAndGlyphs">9</tspan></text>
</g>
</svg>
</body></html>
